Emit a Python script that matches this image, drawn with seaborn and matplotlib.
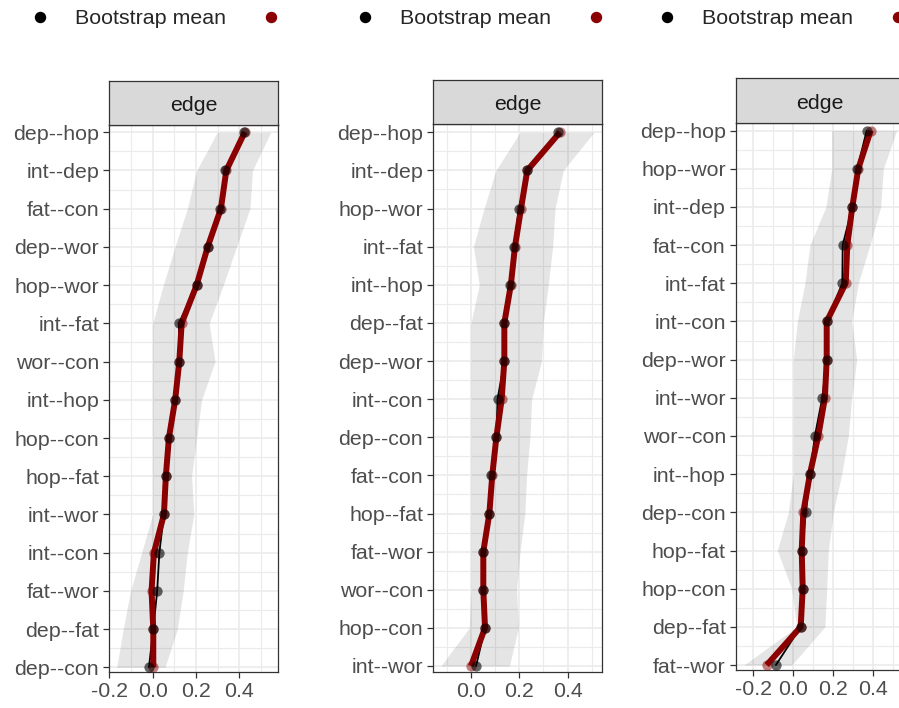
import numpy as np
import pandas as pd
import matplotlib
matplotlib.use("Agg")
import matplotlib.pyplot as plt
from matplotlib.lines import Line2D
from matplotlib.ticker import MultipleLocator
import seaborn as sns

# Panel 1
edges_1 = ["dep--hop", "int--dep", "fat--con", "dep--wor", "hop--wor", "int--fat", "wor--con",
           "int--hop", "hop--con", "hop--fat", "int--wor", "int--con", "fat--wor", "dep--fat", "dep--con"]
boot_1 = [0.423, 0.334, 0.310, 0.254, 0.203, 0.121, 0.123, 0.104, 0.075, 0.061, 0.052, 0.031, 0.021, 0.003, -0.017]
sample_1 = [0.425, 0.340, 0.315, 0.254, 0.203, 0.134, 0.123, 0.104, 0.075, 0.061, 0.052, 0.006, -0.005, 0.003, 0.003]
lower_1 = [0.298, 0.203, 0.160, 0.103, 0.049, 0.0, 0.0, 0.0, 0.0, 0.0, 0.0, -0.051, -0.102, -0.136, -0.166]
upper_1 = [0.545, 0.461, 0.449, 0.387, 0.326, 0.261, 0.288, 0.226, 0.203, 0.180, 0.190, 0.160, 0.141, 0.114, 0.057]

# Panel 2
edges_2 = ["dep--hop", "int--dep", "hop--wor", "int--fat", "int--hop", "dep--fat", "dep--wor",
           "int--con", "dep--con", "fat--con", "hop--fat", "fat--wor", "wor--con", "hop--con", "int--wor"]
boot_2 = [0.361, 0.233, 0.199, 0.177, 0.161, 0.138, 0.138, 0.110, 0.105, 0.084, 0.076, 0.051, 0.051, 0.058, 0.021]
sample_2 = [0.368, 0.233, 0.207, 0.182, 0.165, 0.138, 0.138, 0.127, 0.105, 0.088, 0.076, 0.051, 0.051, 0.058, 0.0]
lower_2 = [0.203, 0.103, 0.054, 0.010, 0.034, 0.0, 0.0, 0.0, 0.0, 0.0, 0.0, 0.0, 0.0, -0.007, -0.125]
upper_2 = [0.509, 0.382, 0.348, 0.338, 0.320, 0.299, 0.292, 0.251, 0.244, 0.230, 0.223, 0.203, 0.189, 0.196, 0.159]

# Panel 3
edges_3 = ["dep--hop", "hop--wor", "int--dep", "fat--con", "int--fat", "int--con", "dep--wor",
           "int--wor", "wor--con", "int--hop", "dep--con", "hop--fat", "hop--con", "dep--fat", "fat--wor"]
boot_3 = [0.367, 0.320, 0.295, 0.247, 0.245, 0.167, 0.167, 0.145, 0.108, 0.083, 0.063, 0.042, 0.047, 0.037, -0.087]
sample_3 = [0.387, 0.325, 0.295, 0.270, 0.262, 0.167, 0.167, 0.158, 0.125, 0.083, 0.050, 0.042, 0.047, 0.037, -0.133]
lower_3 = [0.192, 0.192, 0.163, 0.083, 0.058, 0.020, 0.0, 0.0, 0.0, 0.0, -0.025, -0.080, -0.008, 0.017, -0.247]
upper_3 = [0.517, 0.450, 0.437, 0.383, 0.325, 0.292, 0.317, 0.292, 0.275, 0.242, 0.200, 0.175, 0.167, 0.158, -0.008]

W, H = 899, 708
RED = "#8B0000"

sns.set_style("white")
plt.rcParams["font.family"] = ["Liberation Sans", "DejaVu Sans"]
FS = 15.4

fig = plt.figure(figsize=(W / 100, H / 100), dpi=100)

# panel boxes in pixels: left, right, strip top, panel top, panel bottom
panels = [
    dict(edges=edges_1, boot=boot_1, sample=sample_1, lo=lower_1, hi=upper_1,
         box=(109.3, 278.3, 81, 125, 672.3), xlim=(-0.2, 0.58), pad=(0.19, 0.13), legx=29.3),
    dict(edges=edges_2, boot=boot_2, sample=sample_2, lo=lower_2, hi=upper_2,
         box=(433.3, 601.7, 80, 124.3, 671.7), xlim=(-0.156, 0.541), pad=(0.21, 0.15), legx=354.3),
    dict(edges=edges_3, boot=boot_3, sample=sample_3, lo=lower_3, hi=upper_3,
         box=(736, 904, 78.3, 123.3, 670), xlim=(-0.2865, 0.5535), pad=(0.19, 0.13), legx=656.3),
]

for p in panels:
    left, right, stop, ptop, pbot = p["box"]
    ax = fig.add_axes([left / W, 1 - pbot / H, (right - left) / W, (pbot - ptop) / H])
    sax = fig.add_axes([left / W, 1 - ptop / H, (right - left) / W, (ptop - stop) / H])

    df = pd.DataFrame({"edge": p["edges"], "pos": np.arange(len(p["edges"])),
                       "boot": p["boot"], "sample": p["sample"], "lo": p["lo"], "hi": p["hi"]})

    # CI ribbon, bootstrap mean under the thick sample line, points on top
    ax.fill_betweenx(df["pos"], df["lo"], df["hi"], color="black", alpha=0.1, lw=0, zorder=2)
    sns.lineplot(data=df, x="boot", y="pos", orient="y", sort=False, color="black", lw=1.3,
                 ax=ax, zorder=3)
    sns.lineplot(data=df, x="sample", y="pos", orient="y", sort=False, color=RED, lw=4.3,
                 ax=ax, zorder=4, solid_capstyle="butt")
    sns.scatterplot(data=df, x="sample", y="pos", color=RED, alpha=0.5, s=55, lw=0, ax=ax, zorder=5)
    sns.scatterplot(data=df, x="boot", y="pos", color="black", alpha=0.6, s=55, lw=0, ax=ax, zorder=6)

    n = len(p["edges"])
    ax.set_ylim(n - 1 + p["pad"][1], -p["pad"][0])
    ax.set_yticks(df["pos"])
    ax.set_yticklabels(df["edge"])
    ax.set_yticks(df["pos"][:-1] + 0.5, minor=True)
    ax.xaxis.set_major_locator(MultipleLocator(0.2))
    ax.xaxis.set_minor_locator(MultipleLocator(0.1))
    ax.set_xlim(*p["xlim"])
    ax.set_xticklabels([f"{t:.1f}" for t in ax.get_xticks()])
    ax.set_xlim(*p["xlim"])
    ax.set_xlabel("")
    ax.set_ylabel("")
    ax.grid(which="major", color="#EBEBEB", lw=1.2, zorder=0)
    ax.grid(which="minor", color="#EBEBEB", lw=0.8, zorder=0)
    ax.set_axisbelow(True)
    ax.tick_params(axis="both", which="major", length=4.3, width=0.9, color="#333333",
                   labelsize=FS, labelcolor="#4D4D4D", pad=3, left=True, bottom=True)
    ax.tick_params(which="minor", length=0)
    for s in ax.spines.values():
        s.set_color("#333333")
        s.set_linewidth(0.9)
        s.set_visible(True)

    sax.set_facecolor("#D9D9D9")
    sax.set_xticks([])
    sax.set_yticks([])
    for s in sax.spines.values():
        s.set_color("#333333")
        s.set_linewidth(0.9)
        s.set_visible(True)
    sax.text(0.5, 0.45, "edge", ha="center", va="center", fontsize=FS, color="#1A1A1A",
             transform=sax.transAxes)

    handles = [Line2D([], [], ls="none", marker="o", color="black", markersize=7.2),
               Line2D([], [], ls="none", marker="o", color=RED, markersize=7.2)]
    fig.legend(handles, ["Bootstrap mean", ""], ncol=2, loc="center left",
               bbox_to_anchor=(p["legx"] / W, 1 - 19 / H), frameon=False, fontsize=FS,
               handlelength=1.0, handletextpad=1.14, columnspacing=1.6,
               borderpad=0, borderaxespad=0)

fig.savefig("out.png", dpi=100)
